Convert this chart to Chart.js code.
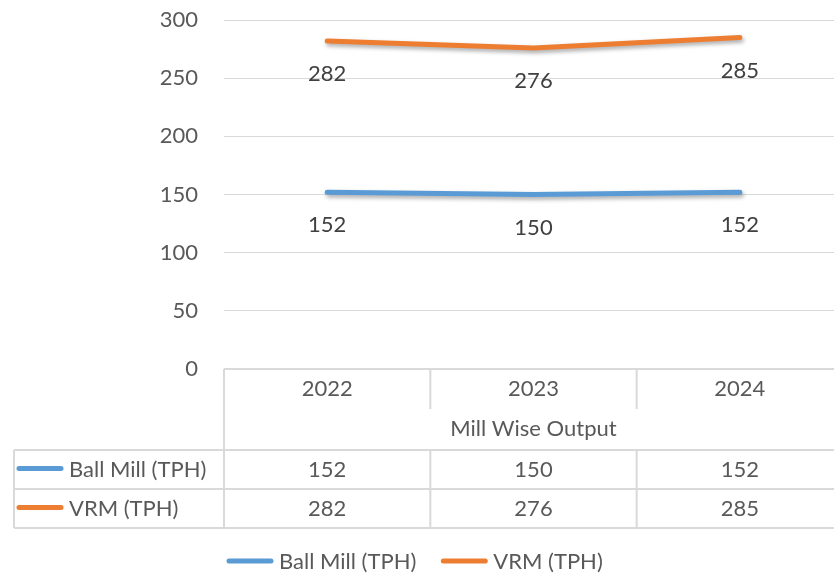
<!DOCTYPE html>
<html>
<head>
<meta charset="utf-8">
<title>Mill Wise Output</title>
<script src="https://cdn.jsdelivr.net/npm/chart.js@4.4.1/dist/chart.umd.min.js"></script>
<style>
  html, body { margin: 0; padding: 0; background: #fff; overflow: hidden; }
  #wrap { position: relative; width: 850px; height: 575px; }
</style>
</head>
<body>
<div id="wrap"><canvas id="millChart"></canvas></div>
<script>
const years = ['2022', '2023', '2024'];
const ballMill = [152, 150, 152];
const vrm = [282, 276, 285];
const seriesNames = ['Ball Mill (TPH)', 'VRM (TPH)'];
const seriesColors = ['#5B9BD5', '#ED7D31'];
const tableTitle = 'Mill Wise Output';

const FONT = 'Lato, "Noto Sans", sans-serif';
const TEXT = '#595959';
const RULE = '#d9d9d9';

// soft drop shadow under each line
const lineShadow = {
    id: 'lineShadow',
    beforeDatasetDraw(chart) {
        const ctx = chart.ctx;
        ctx.save();
        ctx.shadowColor = 'rgba(0,0,0,0.35)';
        ctx.shadowBlur = 4;
        ctx.shadowOffsetX = 1.5;
        ctx.shadowOffsetY = 2.5;
    },
    afterDatasetDraw(chart) {
        chart.ctx.restore();
    }
};

// value labels under each point
const pointLabels = {
    id: 'pointLabels',
    afterDatasetsDraw(chart) {
        const ctx = chart.ctx;
        ctx.save();
        ctx.font = '22px ' + FONT;
        ctx.fillStyle = '#404040';
        ctx.textAlign = 'center';
        ctx.textBaseline = 'middle';
        chart.data.datasets.forEach((ds, i) => {
            chart.getDatasetMeta(i).data.forEach((pt, j) => {
                ctx.fillText(ds.data[j], pt.x, pt.y + 33);
            });
        });
        ctx.restore();
    }
};

function keyLine(ctx, x, y, color) {
    ctx.save();
    ctx.strokeStyle = color;
    ctx.lineWidth = 5;
    ctx.lineCap = 'round';
    ctx.beginPath();
    ctx.moveTo(x + 2, y);
    ctx.lineTo(x + 44, y);
    ctx.stroke();
    ctx.restore();
}

// data table + legend below the plot
const dataTable = {
    id: 'dataTable',
    afterDraw(chart) {
        const ctx = chart.ctx;
        const area = chart.chartArea;
        const n = years.length;
        const colW = area.width / n;
        const top = area.bottom;
        const catBottom = top + 40;
        const titleBottom = top + 81;
        const rowH = 39;
        const tableBottom = titleBottom + rowH * seriesNames.length;
        const labelLeft = 14;

        ctx.save();
        ctx.strokeStyle = RULE;
        ctx.lineWidth = 2;
        ctx.beginPath();
        // top rule and row rules
        ctx.moveTo(area.left, top); ctx.lineTo(area.right, top);
        for (let r = 0; r <= seriesNames.length; r++) {
            const y = titleBottom + r * rowH;
            ctx.moveTo(labelLeft, y); ctx.lineTo(area.right, y);
        }
        // outer verticals
        ctx.moveTo(area.left, top); ctx.lineTo(area.left, tableBottom);
        ctx.moveTo(labelLeft, titleBottom); ctx.lineTo(labelLeft, tableBottom);
        // inner column verticals
        for (let c = 1; c <= n; c++) {
            const x = area.left + c * colW;
            ctx.moveTo(x, top); ctx.lineTo(x, catBottom);
            ctx.moveTo(x, titleBottom); ctx.lineTo(x, tableBottom);
        }
        ctx.stroke();

        ctx.font = '22px ' + FONT;
        ctx.fillStyle = TEXT;
        ctx.textBaseline = 'middle';
        ctx.textAlign = 'center';
        years.forEach((y, i) => {
            ctx.fillText(y, area.left + (i + 0.5) * colW, top + 20);
        });
        ctx.fillText(tableTitle, area.left + 1.5 * colW, catBottom + 20);

        const rows = [ballMill, vrm];
        rows.forEach((vals, r) => {
            const cy = titleBottom + r * rowH + rowH / 2;
            vals.forEach((v, i) => {
                ctx.textAlign = 'center';
                ctx.fillText(v, area.left + (i + 0.5) * colW, cy);
            });
            keyLine(ctx, labelLeft + 3, cy - 1, seriesColors[r]);
            ctx.textAlign = 'left';
            ctx.fillText(seriesNames[r], labelLeft + 55, cy);
        });

        // legend
        const ly = 562;
        let lx = 227;
        seriesNames.forEach((name, i) => {
            keyLine(ctx, lx, ly - 1, seriesColors[i]);
            ctx.textAlign = 'left';
            ctx.fillText(name, lx + 52, ly);
            lx += 52 + ctx.measureText(name).width + 25;
        });
        ctx.restore();
    }
};

new Chart(document.getElementById('millChart'), {
    type: 'line',
    data: {
        labels: years,
        datasets: [
            { label: seriesNames[0], data: ballMill, borderColor: seriesColors[0] },
            { label: seriesNames[1], data: vrm, borderColor: seriesColors[1] }
        ]
    },
    options: {
        responsive: true,
        maintainAspectRatio: false,
        animation: false,
        layout: { padding: { top: 20, right: 7, bottom: 206, left: 0 } },
        elements: {
            line: { borderWidth: 5, borderCapStyle: 'round', borderJoinStyle: 'round', tension: 0 },
            point: { radius: 0, hoverRadius: 0 }
        },
        plugins: { legend: { display: false }, tooltip: { enabled: false } },
        scales: {
            x: { type: 'category', offset: true, display: false },
            y: {
                min: 0, max: 300,
                border: { display: false },
                grid: { color: RULE, lineWidth: 1, drawTicks: false },
                ticks: { stepSize: 50, padding: 26, color: TEXT, font: { family: FONT, size: 22 } },
                afterFit(scale) {
                    scale.width = 224;
                    scale.paddingTop = 0;
                    scale.paddingBottom = 0;
                }
            }
        }
    },
    plugins: [lineShadow, pointLabels, dataTable]
});
</script>
</body>
</html>
